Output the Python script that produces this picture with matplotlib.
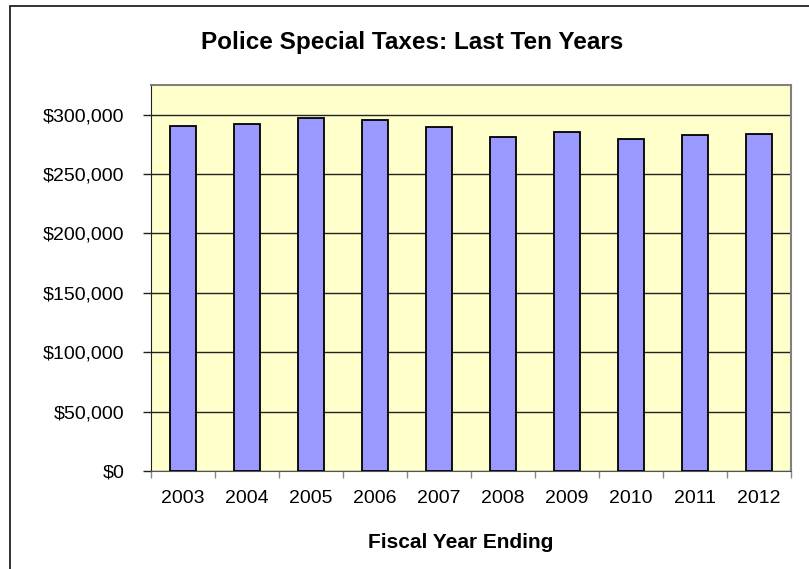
import matplotlib
matplotlib.use("Agg")
import matplotlib.pyplot as plt
from matplotlib.patches import Rectangle
from matplotlib.ticker import FuncFormatter, FixedLocator
import numpy as np

# Police special tax revenue by fiscal year
years = ["2003", "2004", "2005", "2006", "2007", "2008", "2009", "2010", "2011", "2012"]
revenue = [290400, 292100, 297100, 295200, 289600, 280900, 285700, 279800, 282600, 283700]
y_ticks = [0, 50000, 100000, 150000, 200000, 250000, 300000]

plt.rcParams["font.family"] = ["Liberation Sans", "DejaVu Sans"]

W, H = 809, 569
fig = plt.figure(figsize=(W / 100, H / 100), dpi=100)

# chart-area frame (runs off the right and bottom edges)
fig.patches.append(Rectangle((10 / W, -0.1), 1.2, 1.1 - 6 / H, transform=fig.transFigure,
                             fill=False, edgecolor="#222222", lw=1.3, zorder=0))

ax = fig.add_axes([151 / W, 1 - 471 / H, 640 / W, 386 / H])
ax.set_facecolor("#FFFFCC")

x = np.arange(len(years))
ax.bar(x, revenue, width=0.4, color="#9999FF", edgecolor="black", lw=1.3, zorder=3)

ax.set_xlim(-0.5, len(years) - 0.5)
ax.set_ylim(0, 325000)
ax.yaxis.set_major_locator(FixedLocator(y_ticks))
ax.yaxis.set_major_formatter(FuncFormatter(lambda v, _: f"${v:,.0f}"))
ax.grid(axis="y", color="#222222", lw=1.0, zorder=1)

ax.set_xticks(x)
ax.set_xticklabels(years)
ax.xaxis.set_minor_locator(FixedLocator(np.arange(-0.5, len(years), 1.0)))
ax.tick_params(axis="x", which="major", length=0, pad=14, labelsize=14)
ax.tick_params(axis="x", which="minor", length=5, color="#888888", width=1)
ax.tick_params(axis="y", length=6, width=1, color="#222222", pad=13, labelsize=14)

for side in ("top", "right"):
    ax.spines[side].set_color("#808080")
    ax.spines[side].set_linewidth(1.5)
ax.spines["left"].set_color("#222222")
ax.spines["bottom"].set_color("#555555")

fig.text(412 / W, 1 - 43 / H, "Police Special Taxes: Last Ten Years",
         ha="center", va="center", fontsize=17.5, fontweight="bold")
fig.text(461 / W, 1 - 543 / H, "Fiscal Year Ending",
         ha="center", va="center", fontsize=15, fontweight="bold")

fig.savefig("out.png", dpi=100)
